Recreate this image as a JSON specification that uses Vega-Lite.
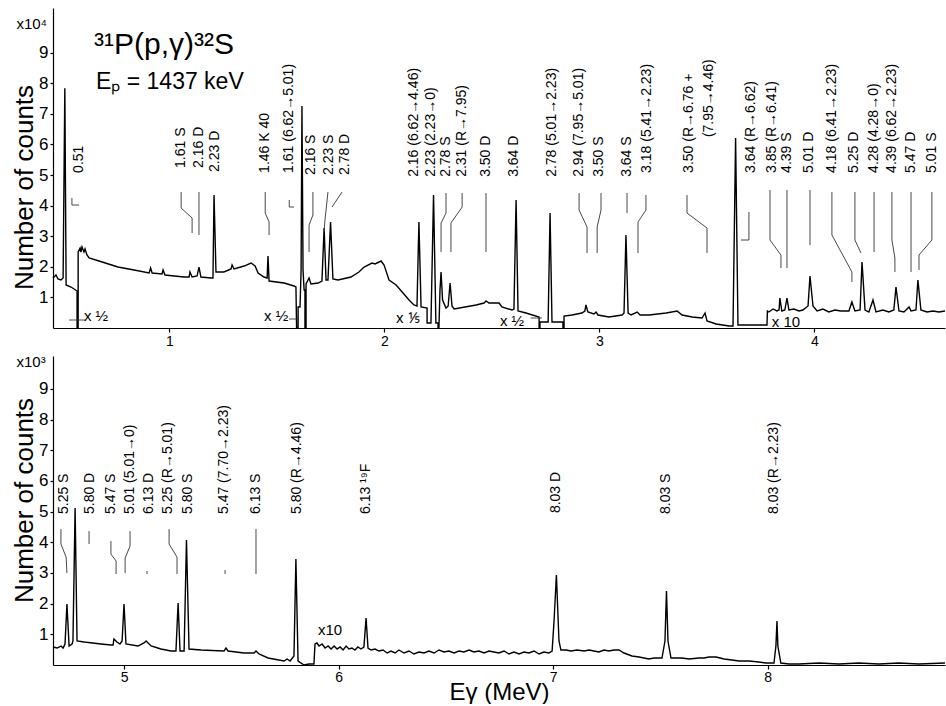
{
"background": "white",
"padding": {"left": 10, "top": 8, "right": 0, "bottom": 0},
"spacing": 7,
"config": {
 "view": {"stroke": null},
 "font": "Liberation Sans",
 "axis": {"domainColor": "black", "tickColor": "black", "labelColor": "black", "titleColor": "black", "grid": false, "labelFont": "Liberation Sans", "titleFont": "Liberation Sans", "titleFontWeight": "normal", "domainWidth": 1.2, "tickWidth": 1.2}
},
"datasets": {
 "top": [
  {"E":0.459,"V":1.634},{"E":0.473,"V":1.732},{"E":0.482,"V":1.601},{"E":0.496,"V":1.569},{"E":0.506,"V":1.634},{"E":0.514,"V":7.84},{"E":0.520,"V":1.405},{"E":0.543,"V":1.340},{"E":0.571,"V":1.209},{"E":0.571,"V":0},{"E":0.576,"V":0},{"E":0.576,"V":2.484},{"E":0.585,"V":2.614},{"E":0.589,"V":2.484},{"E":0.594,"V":2.647},{"E":0.603,"V":2.484},{"E":0.608,"V":2.582},{"E":0.617,"V":2.386},{"E":0.627,"V":2.288},{"E":0.673,"V":2.190},{"E":0.761,"V":1.993},{"E":0.836,"V":1.895},{"E":0.906,"V":1.797},{"E":0.913,"V":1.961},{"E":0.920,"V":1.797},{"E":0.966,"V":1.765},{"E":0.971,"V":1.895},{"E":0.980,"V":1.732},{"E":1.068,"V":1.667},{"E":1.092,"V":1.667},{"E":1.096,"V":1.830},{"E":1.106,"V":1.667},{"E":1.129,"V":1.699},{"E":1.138,"V":1.993},{"E":1.147,"V":1.667},{"E":1.194,"V":1.634},{"E":1.203,"V":1.634},{"E":1.208,"V":4.346},{"E":1.217,"V":1.830},{"E":1.254,"V":1.830},{"E":1.287,"V":1.928},{"E":1.292,"V":2.059},{"E":1.301,"V":1.928},{"E":1.348,"V":2.026},{"E":1.380,"V":2.124},{"E":1.399,"V":2.026},{"E":1.413,"V":1.797},{"E":1.440,"V":1.667},{"E":1.455,"V":1.634},{"E":1.459,"V":2.353},{"E":1.464,"V":1.536},{"E":1.534,"V":1.471},{"E":1.580,"V":1.373},{"E":1.589,"V":1.340},{"E":1.592,"V":0},{"E":1.599,"V":0},{"E":1.599,"V":0.686},{"E":1.608,"V":0.686},{"E":1.613,"V":1.895},{"E":1.617,"V":7.255},{"E":1.622,"V":1.895},{"E":1.627,"V":1.242},{"E":1.631,"V":1.242},{"E":1.631,"V":0},{"E":1.636,"V":0},{"E":1.636,"V":1.438},{"E":1.650,"V":1.634},{"E":1.659,"V":1.438},{"E":1.692,"V":1.471},{"E":1.710,"V":1.536},{"E":1.720,"V":3.268},{"E":1.729,"V":1.569},{"E":1.738,"V":1.569},{"E":1.750,"V":3.464},{"E":1.761,"V":1.601},{"E":1.785,"V":1.569},{"E":1.845,"V":1.667},{"E":1.882,"V":1.830},{"E":1.906,"V":1.993},{"E":1.943,"V":2.124},{"E":1.957,"V":2.092},{"E":1.985,"V":2.190},{"E":1.999,"V":2.059},{"E":2.022,"V":1.569},{"E":2.055,"V":1.405},{"E":2.083,"V":1.176},{"E":2.115,"V":0.915},{"E":2.138,"V":0.752},{"E":2.152,"V":0.719},{"E":2.161,"V":3.464},{"E":2.171,"V":0.686},{"E":2.199,"V":0.654},{"E":2.199,"V":0.163},{"E":2.217,"V":0.163},{"E":2.229,"V":4.346},{"E":2.240,"V":0.163},{"E":2.250,"V":0.163},{"E":2.250,"V":0},{"E":2.254,"V":0},{"E":2.259,"V":1.242},{"E":2.264,"V":1.830},{"E":2.271,"V":0.915},{"E":2.287,"V":0.654},{"E":2.297,"V":0.719},{"E":2.306,"V":1.471},{"E":2.315,"V":0.719},{"E":2.325,"V":0.621},{"E":2.427,"V":0.752},{"E":2.464,"V":0.817},{"E":2.473,"V":0.882},{"E":2.487,"V":0.817},{"E":2.534,"V":0.817},{"E":2.547,"V":0.686},{"E":2.594,"V":0.588},{"E":2.603,"V":0.621},{"E":2.613,"V":4.183},{"E":2.622,"V":0.556},{"E":2.659,"V":0.490},{"E":2.720,"V":0.359},{"E":2.720,"V":0},{"E":2.724,"V":0},{"E":2.724,"V":0.196},{"E":2.762,"V":0.196},{"E":2.771,"V":3.758},{"E":2.780,"V":0.196},{"E":2.831,"V":0.196},{"E":2.831,"V":0},{"E":2.836,"V":0},{"E":2.836,"V":0.392},{"E":2.873,"V":0.425},{"E":2.919,"V":0.490},{"E":2.933,"V":0.556},{"E":2.938,"V":0.752},{"E":2.947,"V":0.523},{"E":2.975,"V":0.458},{"E":2.985,"V":0.523},{"E":2.994,"V":0.425},{"E":3.045,"V":0.359},{"E":3.106,"V":0.425},{"E":3.115,"V":0.490},{"E":3.124,"V":3.039},{"E":3.134,"V":0.490},{"E":3.148,"V":0.425},{"E":3.176,"V":0.523},{"E":3.190,"V":0.425},{"E":3.232,"V":0.425},{"E":3.311,"V":0.490},{"E":3.362,"V":0.556},{"E":3.385,"V":0.425},{"E":3.432,"V":0.359},{"E":3.478,"V":0.327},{"E":3.492,"V":0.490},{"E":3.501,"V":0.229},{"E":3.543,"V":0.131},{"E":3.604,"V":0.065},{"E":3.622,"V":0.065},{"E":3.634,"V":6.209},{"E":3.645,"V":0.098},{"E":3.780,"V":0.098},{"E":3.782,"V":0.556},{"E":3.789,"V":0.523},{"E":3.808,"V":0.621},{"E":3.826,"V":0.556},{"E":3.836,"V":0.588},{"E":3.840,"V":0.980},{"E":3.849,"V":0.556},{"E":3.863,"V":0.588},{"E":3.873,"V":0.980},{"E":3.882,"V":0.588},{"E":3.905,"V":0.621},{"E":3.929,"V":0.556},{"E":3.947,"V":0.588},{"E":3.971,"V":0.719},{"E":3.980,"V":1.699},{"E":3.994,"V":0.719},{"E":4.013,"V":0.556},{"E":4.040,"V":0.621},{"E":4.068,"V":0.523},{"E":4.096,"V":0.588},{"E":4.124,"V":0.556},{"E":4.161,"V":0.556},{"E":4.175,"V":0.850},{"E":4.189,"V":0.556},{"E":4.213,"V":0.588},{"E":4.222,"V":2.157},{"E":4.236,"V":0.588},{"E":4.254,"V":0.523},{"E":4.273,"V":0.915},{"E":4.287,"V":0.523},{"E":4.319,"V":0.588},{"E":4.347,"V":0.523},{"E":4.370,"V":0.588},{"E":4.380,"V":1.340},{"E":4.394,"V":0.556},{"E":4.417,"V":0.523},{"E":4.441,"V":0.686},{"E":4.450,"V":0.556},{"E":4.473,"V":0.588},{"E":4.482,"V":1.569},{"E":4.496,"V":0.588},{"E":4.524,"V":0.523},{"E":4.552,"V":0.556},{"E":4.580,"V":0.523},{"E":4.608,"V":0.556}
 ],
 "bottom": [
  {"E":4.669,"V":0.586},{"E":4.688,"V":0.554},{"E":4.706,"V":0.619},{"E":4.716,"V":0.554},{"E":4.725,"V":0.684},{"E":4.734,"V":1.987},{"E":4.744,"V":0.619},{"E":4.758,"V":0.684},{"E":4.762,"V":0.782},{"E":4.772,"V":5.114},{"E":4.781,"V":0.782},{"E":4.814,"V":0.749},{"E":4.893,"V":0.684},{"E":4.939,"V":0.651},{"E":4.949,"V":0.651},{"E":4.953,"V":0.847},{"E":4.967,"V":0.749},{"E":4.981,"V":0.684},{"E":4.991,"V":0.782},{"E":5.000,"V":1.987},{"E":5.009,"V":0.684},{"E":5.065,"V":0.619},{"E":5.093,"V":0.717},{"E":5.103,"V":0.782},{"E":5.126,"V":0.619},{"E":5.172,"V":0.521},{"E":5.219,"V":0.456},{"E":5.242,"V":0.456},{"E":5.252,"V":2.020},{"E":5.261,"V":0.456},{"E":5.280,"V":0.456},{"E":5.291,"V":4.072},{"E":5.303,"V":0.521},{"E":5.359,"V":0.489},{"E":5.466,"V":0.456},{"E":5.475,"V":0.554},{"E":5.485,"V":0.456},{"E":5.559,"V":0.391},{"E":5.606,"V":0.391},{"E":5.615,"V":0.456},{"E":5.629,"V":0.358},{"E":5.671,"V":0.228},{"E":5.746,"V":0.130},{"E":5.760,"V":0.195},{"E":5.774,"V":0.130},{"E":5.792,"V":0.293},{"E":5.801,"V":3.453},{"E":5.811,"V":0.130},{"E":5.839,"V":0},{"E":5.862,"V":0.033},{"E":5.885,"V":0.033},{"E":5.890,"V":0.684},{"E":5.899,"V":0.717},{"E":5.909,"V":0.619},{"E":5.923,"V":0.684},{"E":5.937,"V":0.554},{"E":5.951,"V":0.619},{"E":5.965,"V":0.521},{"E":5.979,"V":0.619},{"E":5.993,"V":0.521},{"E":6.007,"V":0.586},{"E":6.021,"V":0.489},{"E":6.035,"V":0.619},{"E":6.048,"V":0.521},{"E":6.062,"V":0.554},{"E":6.076,"V":0.489},{"E":6.090,"V":0.586},{"E":6.104,"V":0.521},{"E":6.118,"V":0.586},{"E":6.128,"V":1.531},{"E":6.137,"V":0.554},{"E":6.151,"V":0.489},{"E":6.170,"V":0.521},{"E":6.188,"V":0.456},{"E":6.207,"V":0.489},{"E":6.226,"V":0.391},{"E":6.244,"V":0.456},{"E":6.263,"V":0.391},{"E":6.281,"V":0.489},{"E":6.305,"V":0.391},{"E":6.328,"V":0.456},{"E":6.351,"V":0.358},{"E":6.375,"V":0.423},{"E":6.398,"V":0.391},{"E":6.421,"V":0.456},{"E":6.445,"V":0.391},{"E":6.468,"V":0.489},{"E":6.491,"V":0.423},{"E":6.514,"V":0.456},{"E":6.538,"V":0.391},{"E":6.561,"V":0.456},{"E":6.584,"V":0.423},{"E":6.608,"V":0.489},{"E":6.631,"V":0.423},{"E":6.654,"V":0.456},{"E":6.678,"V":0.391},{"E":6.701,"V":0.456},{"E":6.724,"V":0.423},{"E":6.747,"V":0.391},{"E":6.771,"V":0.456},{"E":6.794,"V":0.358},{"E":6.817,"V":0.423},{"E":6.841,"V":0.358},{"E":6.864,"V":0.423},{"E":6.887,"V":0.391},{"E":6.911,"V":0.456},{"E":6.934,"V":0.358},{"E":6.957,"V":0.423},{"E":6.980,"V":0.391},{"E":6.995,"V":0.456},{"E":7.004,"V":1.433},{"E":7.015,"V":2.932},{"E":7.027,"V":0.782},{"E":7.036,"V":0.489},{"E":7.060,"V":0.489},{"E":7.083,"V":0.456},{"E":7.111,"V":0.489},{"E":7.144,"V":0.456},{"E":7.167,"V":0.489},{"E":7.190,"V":0.456},{"E":7.213,"V":0.423},{"E":7.237,"V":0.489},{"E":7.260,"V":0.456},{"E":7.283,"V":0.489},{"E":7.307,"V":0.489},{"E":7.330,"V":0.391},{"E":7.367,"V":0.293},{"E":7.400,"V":0.261},{"E":7.446,"V":0.195},{"E":7.470,"V":0.228},{"E":7.507,"V":0.228},{"E":7.521,"V":0.782},{"E":7.528,"V":2.410},{"E":7.535,"V":0.782},{"E":7.549,"V":0.228},{"E":7.600,"V":0.228},{"E":7.633,"V":0.195},{"E":7.679,"V":0.228},{"E":7.703,"V":0.228},{"E":7.726,"V":0.261},{"E":7.759,"V":0.261},{"E":7.796,"V":0.195},{"E":7.833,"V":0.163},{"E":7.866,"V":0.130},{"E":7.912,"V":0.130},{"E":7.959,"V":0.098},{"E":7.992,"V":0.065},{"E":8.029,"V":0.065},{"E":8.038,"V":0.619},{"E":8.043,"V":1.433},{"E":8.047,"V":0.619},{"E":8.061,"V":0.065},{"E":8.099,"V":0.033},{"E":8.145,"V":0.033},{"E":8.239,"V":0.065},{"E":8.332,"V":0.033},{"E":8.425,"V":0.065},{"E":8.518,"V":0.033},{"E":8.611,"V":0.065},{"E":8.705,"V":0.033},{"E":8.826,"V":0.065}
 ],
 "topLabels": [
  {"E":0.580,"V":5.07,"t":"0.51"},{"E":1.055,"V":5.23,"t":"1.61 S"},{"E":1.138,"V":5.23,"t":"2.16 D"},{"E":1.213,"V":5.10,"t":"2.23 D"},{"E":1.446,"V":5.07,"t":"1.46  K 40"},{"E":1.558,"V":5.07,"t":"1.61 (6.62→5.01)"},{"E":1.659,"V":5.0,"t":"2.16 S"},{"E":1.743,"V":5.0,"t":"2.23 S"},{"E":1.817,"V":5.0,"t":"2.78 D"},{"E":2.138,"V":4.94,"t":"2.16 (6.62→4.46)"},{"E":2.217,"V":4.94,"t":"2.23 (2.23→0)"},{"E":2.287,"V":4.94,"t":"2.78 S"},{"E":2.362,"V":4.94,"t":"2.31 (R→7.95)"},{"E":2.473,"V":4.94,"t":"3.50 D"},{"E":2.603,"V":4.94,"t":"3.64 D"},{"E":2.780,"V":4.94,"t":"2.78 (5.01→2.23)"},{"E":2.906,"V":4.94,"t":"2.94 (7.95→5.01)"},{"E":3.000,"V":4.94,"t":"3.50 S"},{"E":3.129,"V":4.94,"t":"3.64 S"},{"E":3.222,"V":5.07,"t":"3.18 (5.41→2.23)"},{"E":3.417,"V":5.07,"t":"3.50 (R→6.76 +"},{"E":3.510,"V":6.24,"t":"(7.95→4.46)"},{"E":3.705,"V":5.07,"t":"3.64 (R→6.62)"},{"E":3.803,"V":5.07,"t":"3.85 (R→6.41)"},{"E":3.873,"V":5.07,"t":"4.39 S"},{"E":3.975,"V":5.07,"t":"5.01 D"},{"E":4.082,"V":5.07,"t":"4.18 (6.41→2.23)"},{"E":4.185,"V":5.07,"t":"5.25 D"},{"E":4.278,"V":5.07,"t":"4.28 (4.28→0)"},{"E":4.361,"V":5.07,"t":"4.39 (6.62→2.23)"},{"E":4.450,"V":5.07,"t":"5.47 D"},{"E":4.547,"V":5.07,"t":"5.01 S"}
 ],
 "bottomLabels": [
  {"E":4.720,"V":4.92,"t":"5.25 S"},{"E":4.842,"V":4.92,"t":"5.80 D"},{"E":4.939,"V":4.92,"t":"5.47 S"},{"E":5.028,"V":4.92,"t":"5.01 (5.01→0)"},{"E":5.116,"V":4.92,"t":"6.13 D"},{"E":5.205,"V":4.92,"t":"5.25 (R→5.01)"},{"E":5.298,"V":4.92,"t":"5.80 S"},{"E":5.466,"V":4.92,"t":"5.47 (7.70→2.23)"},{"E":5.615,"V":4.92,"t":"6.13 S"},{"E":5.806,"V":4.92,"t":"5.80 (R→4.46)"},{"E":6.128,"V":4.92,"t":"6.13   ¹⁹F"},{"E":7.013,"V":4.95,"t":"8.03 D"},{"E":7.526,"V":4.92,"t":"8.03 S"},{"E":8.029,"V":4.92,"t":"8.03 (R→2.23)"}
 ],
 "topLeaders": [
  {"id":"a","E":0.547,"V":4.248},{"id":"a","E":0.547,"V":4.020},{"id":"a","E":0.580,"V":4.020},
  {"id":"b","E":1.055,"V":4.444},{"id":"b","E":1.055,"V":3.922},{"id":"b","E":1.106,"V":3.595},{"id":"b","E":1.106,"V":3.105},
  {"id":"c","E":1.138,"V":4.444},{"id":"c","E":1.138,"V":3.039},
  {"id":"d","E":1.446,"V":4.444},{"id":"d","E":1.446,"V":3.758},{"id":"d","E":1.464,"V":3.464},{"id":"d","E":1.464,"V":3.039},
  {"id":"e","E":1.558,"V":4.183},{"id":"e","E":1.558,"V":3.954},{"id":"e","E":1.580,"V":3.954},
  {"id":"f","E":1.668,"V":4.444},{"id":"f","E":1.668,"V":3.693},{"id":"f","E":1.650,"V":3.366},{"id":"f","E":1.650,"V":2.484},
  {"id":"g","E":1.738,"V":4.444},{"id":"g","E":1.724,"V":3.529},{"id":"g","E":1.720,"V":3.137},
  {"id":"h","E":1.803,"V":4.444},{"id":"h","E":1.757,"V":3.954},
  {"id":"i","E":2.287,"V":4.412},{"id":"i","E":2.287,"V":3.758},{"id":"i","E":2.264,"V":3.431},{"id":"i","E":2.264,"V":2.484},
  {"id":"j","E":2.362,"V":4.412},{"id":"j","E":2.362,"V":3.954},{"id":"j","E":2.310,"V":3.431},{"id":"j","E":2.310,"V":2.484},
  {"id":"k","E":2.473,"V":4.412},{"id":"k","E":2.473,"V":2.484},
  {"id":"l","E":2.906,"V":4.412},{"id":"l","E":2.906,"V":3.856},{"id":"l","E":2.943,"V":3.301},{"id":"l","E":2.943,"V":2.451},
  {"id":"m","E":3.008,"V":4.412},{"id":"m","E":3.008,"V":3.856},{"id":"m","E":2.990,"V":3.301},{"id":"m","E":2.990,"V":2.451},
  {"id":"n","E":3.129,"V":4.412},{"id":"n","E":3.129,"V":3.758},
  {"id":"o","E":3.217,"V":4.346},{"id":"o","E":3.217,"V":3.856},{"id":"o","E":3.180,"V":3.464},{"id":"o","E":3.180,"V":2.451},
  {"id":"p","E":3.408,"V":4.346},{"id":"p","E":3.408,"V":3.758},{"id":"p","E":3.501,"V":3.268},{"id":"p","E":3.501,"V":2.451},
  {"id":"q","E":3.696,"V":3.791},{"id":"q","E":3.696,"V":2.876},{"id":"q","E":3.659,"V":2.876},
  {"id":"r","E":3.794,"V":4.510},{"id":"r","E":3.794,"V":2.876},{"id":"r","E":3.845,"V":2.386},{"id":"r","E":3.845,"V":1.961},
  {"id":"s","E":3.873,"V":4.510},{"id":"s","E":3.873,"V":1.961},
  {"id":"t","E":3.980,"V":4.510},{"id":"t","E":3.980,"V":2.712},
  {"id":"u","E":4.082,"V":4.444},{"id":"u","E":4.082,"V":3.039},{"id":"u","E":4.175,"V":1.830},{"id":"u","E":4.175,"V":1.503},
  {"id":"v","E":4.189,"V":4.444},{"id":"v","E":4.189,"V":2.876},{"id":"v","E":4.217,"V":2.451},
  {"id":"w","E":4.278,"V":4.444},{"id":"w","E":4.278,"V":2.484},
  {"id":"x","E":4.361,"V":4.444},{"id":"x","E":4.361,"V":2.876},{"id":"x","E":4.375,"V":2.288},{"id":"x","E":4.375,"V":1.830},
  {"id":"y","E":4.450,"V":4.444},{"id":"y","E":4.450,"V":1.830},
  {"id":"z","E":4.547,"V":4.444},{"id":"z","E":4.547,"V":2.876},{"id":"z","E":4.487,"V":2.386},{"id":"z","E":4.487,"V":1.895},
  {"id":"ar1","E":0.534,"V":0.261},{"id":"ar1","E":0.608,"V":0.261},
  {"id":"ar2","E":1.557,"V":0.294},{"id":"ar2","E":1.603,"V":0.294},
  {"id":"ar3","E":2.681,"V":0.327},{"id":"ar3","E":2.733,"V":0.327}
 ],
 "bottomLeaders": [
  {"id":"A","E":4.706,"V":4.430},{"id":"A","E":4.706,"V":3.941},{"id":"A","E":4.730,"V":3.518},{"id":"A","E":4.734,"V":2.997},
  {"id":"B","E":4.837,"V":4.365},{"id":"B","E":4.837,"V":3.941},
  {"id":"C","E":4.939,"V":4.039},{"id":"C","E":4.939,"V":3.616},{"id":"C","E":4.963,"V":3.388},{"id":"C","E":4.963,"V":2.964},
  {"id":"D","E":5.028,"V":4.365},{"id":"D","E":5.028,"V":3.876},{"id":"D","E":5.005,"V":3.485},{"id":"D","E":5.005,"V":2.997},
  {"id":"E","E":5.107,"V":3.062},{"id":"E","E":5.107,"V":2.964},
  {"id":"F","E":5.210,"V":4.430},{"id":"F","E":5.210,"V":3.941},{"id":"F","E":5.247,"V":3.518},{"id":"F","E":5.247,"V":2.964},
  {"id":"G","E":5.471,"V":3.094},{"id":"G","E":5.471,"V":2.964},
  {"id":"H","E":5.615,"V":4.430},{"id":"H","E":5.615,"V":2.964}
 ],
 "topNotes": [
  {"E":0.659,"V":0.392,"t":"x ½"},{"E":1.497,"V":0.392,"t":"x ½"},{"E":2.109,"V":0.327,"t":"x ⅕"},{"E":2.594,"V":0.229,"t":"x ½"},{"E":3.868,"V":0.196,"t":"x 10"}
 ]
},
"vconcat": [
 {
  "width": 892, "height": 320,
  "encoding": {
   "x": {"field": "E", "type": "quantitative", "scale": {"domain": [0.459, 4.608], "nice": false, "zero": false}, "axis": {"values": [1,2,3,4], "title": null, "labelFontSize": 14, "tickSize": 4, "labelPadding": 2, "format": "d"}},
   "y": {"field": "V", "type": "quantitative", "scale": {"domain": [0, 10.46], "nice": false}, "axis": {"values": [1,2,3,4,5,6,7,8,9], "title": "Number of counts", "labelFontSize": 17, "tickSize": 3, "labelPadding": 2, "titleFontSize": 26, "titleX": -21, "titleY": 179, "titleBaseline": "alphabetic", "format": "d"}}
  },
  "layer": [
   {"data": {"name": "top"}, "mark": {"type": "line", "color": "black", "strokeWidth": 1.4, "interpolate": "linear"}, "encoding": {"order": {"value": null}}},
   {"data": {"name": "topLeaders"}, "mark": {"type": "line", "color": "#333", "strokeWidth": 0.9}, "encoding": {"detail": {"field": "id"}, "order": {"value": null}}},
   {"data": {"name": "topLabels"}, "mark": {"type": "text", "angle": 270, "align": "left", "baseline": "middle", "fontSize": 14, "color": "black"}, "encoding": {"text": {"field": "t"}}},
   {"data": {"name": "topNotes"}, "mark": {"type": "text", "align": "center", "baseline": "middle", "fontSize": 15, "color": "black"}, "encoding": {"text": {"field": "t"}}},
   {"data": {"values": [{"E": 0.650, "V": 9.25, "t": "³¹P(p,γ)³²S"}]}, "mark": {"type": "text", "align": "left", "baseline": "middle", "fontSize": 30, "color": "black"}, "encoding": {"text": {"field": "t"}}},
   {"data": {"values": [{"E": 0.659, "V": 8.04, "t": "Eₚ = 1437 keV"}]}, "mark": {"type": "text", "align": "left", "baseline": "middle", "fontSize": 23, "color": "black"}, "encoding": {"text": {"field": "t"}}},
   {"data": {"values": [{"E": 0.360, "V": 9.95, "t": "x10⁴"}]}, "mark": {"type": "text", "align": "center", "baseline": "middle", "fontSize": 15, "color": "black"}, "encoding": {"text": {"field": "t"}}}
  ]
 },
 {
  "width": 892, "height": 309,
  "encoding": {
   "x": {"field": "E", "type": "quantitative", "scale": {"domain": [4.669, 8.826], "nice": false, "zero": false}, "axis": {"values": [5,6,7,8], "title": "Eγ (MeV)", "titleFontSize": 24, "titleX": 446, "titleY": 34, "titleBaseline": "alphabetic", "labelFontSize": 14, "tickSize": 4, "labelPadding": 1, "format": "d"}},
   "y": {"field": "V", "type": "quantitative", "scale": {"domain": [0, 10.07], "nice": false}, "axis": {"values": [1,2,3,4,5,6,7,8,9], "title": "Number of counts", "labelFontSize": 17, "tickSize": 3, "labelPadding": 2, "titleFontSize": 26, "titleX": -21, "titleY": 144, "titleBaseline": "alphabetic", "format": "d"}}
  },
  "layer": [
   {"data": {"name": "bottom"}, "mark": {"type": "line", "color": "black", "strokeWidth": 1.4}, "encoding": {"order": {"value": null}}},
   {"data": {"name": "bottomLeaders"}, "mark": {"type": "line", "color": "#333", "strokeWidth": 0.9}, "encoding": {"detail": {"field": "id"}, "order": {"value": null}}},
   {"data": {"name": "bottomLabels"}, "mark": {"type": "text", "angle": 270, "align": "left", "baseline": "middle", "fontSize": 14, "color": "black"}, "encoding": {"text": {"field": "t"}}},
   {"data": {"values": [{"E": 5.960, "V": 1.14, "t": "x10"}, {"E": 4.567, "V": 9.87, "t": "x10³"}]}, "mark": {"type": "text", "align": "center", "baseline": "middle", "fontSize": 15, "color": "black"}, "encoding": {"text": {"field": "t"}}}
  ]
 }
]
}
